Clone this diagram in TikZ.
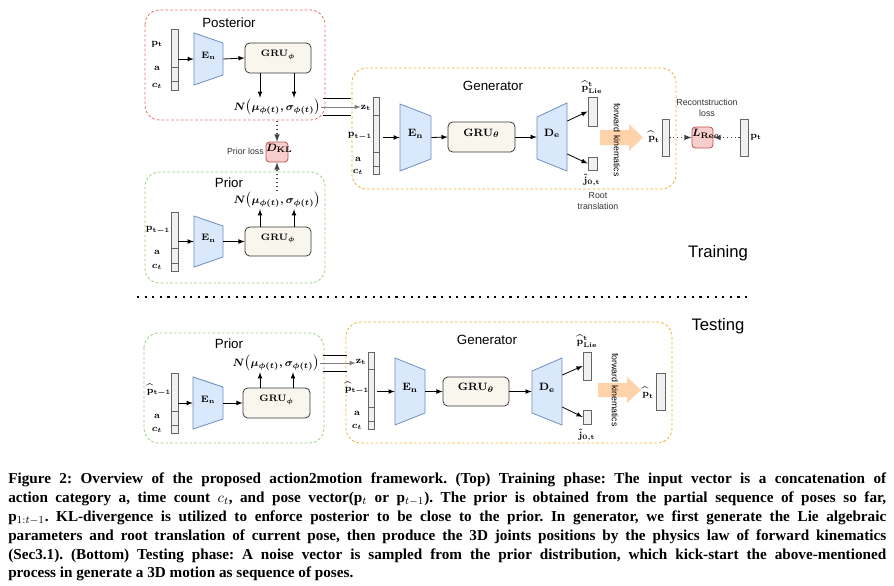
\documentclass[tikz,border=0pt]{standalone}
\usepackage[no-math]{fontspec}
\newfontfamily\lblfont{Liberation Sans}
\newfontfamily\capfont{Liberation Serif}
\usetikzlibrary{fit}

\definecolor{postred}{HTML}{EA6B66}
\definecolor{prigreen}{HTML}{97D077}
\definecolor{genorange}{HTML}{F0B133}
\definecolor{encfill}{HTML}{DAE8FC}
\definecolor{encline}{HTML}{6C8EBF}
\definecolor{grufill}{HTML}{F9F7ED}
\definecolor{gruline}{HTML}{36393D}
\definecolor{lossfill}{HTML}{F8CECC}
\definecolor{lossline}{HTML}{B85450}
\definecolor{vecfill}{HTML}{F0F0F0}
\definecolor{vecline}{HTML}{666666}
\definecolor{fkfill}{HTML}{FFD3AA}

\tikzset{
  frame/.style={rounded corners=11pt, dash pattern=on 2pt off 1.6pt, line width=0.6pt},
  vec/.style={draw=vecline, fill=vecfill, line width=0.6pt, inner sep=0pt},
  coderbox/.style={draw=encline, fill=encfill, line width=0.6pt},
  grubox/.style={draw=gruline, fill=grufill, line width=0.6pt, rounded corners=3.5pt},
  lossbox/.style={draw=lossline, fill=lossfill, line width=0.6pt, rounded corners=2.5pt},
  conn/.style={-latex, line width=0.6pt},
  dotconn/.style={-latex, dotted, line width=0.9pt, draw=black!75},
  mlbl/.style={font=\fontsize{7.5}{8}\selectfont\boldmath, inner sep=0pt},
  msmall/.style={font=\fontsize{7}{8}\selectfont\boldmath, inner sep=0pt},
  mbig/.style={font=\fontsize{8.5}{9}\selectfont\boldmath, inner sep=0pt},
  mnorm/.style={font=\fontsize{8}{9}\selectfont\boldmath, inner sep=0.5pt},
  ttl/.style={font=\lblfont\fontsize{10}{12}\selectfont},
  note/.style={font=\lblfont\fontsize{6.6}{8}\selectfont, text=black!80, align=center, inner sep=0pt},
  phase/.style={font=\lblfont\fontsize{12.5}{14}\selectfont},
  sep/.style={line width=1.6pt, dash pattern=on 1.6pt off 4.1pt},
  fk/.style={fill=fkfill, draw=none},
}

% vector bar: name, x1, y1, x2, y2, dividers
\newcommand{\vect}[6]{%
  \node[vec, fit={(#2,#3) (#4,#5)}] (#1) {};
  \foreach \d in {#6}
    \draw[vecline, line width=0.6pt] (#1.west |- 0,\d) -- (#1.east |- 0,\d);
}
% encoder/decoder: name, style, xl, xr, left top, left bottom, right top, right bottom, label
\newcommand{\coder}[9]{%
  \draw[coderbox] (#3,#5) -- (#4,#7) -- (#4,#8) -- (#3,#6) -- cycle;
  \node[#2, fit={(#3,#5) (#4,#7) (#4,#8) (#3,#6)}] (#1) {#9};
}
\newcommand{\normlbl}{$N\bigl(\mu_{\phi(t)},\sigma_{\phi(t)}\bigr)$}

\begin{document}
\begin{tikzpicture}[x=0.75pt, y=-0.75pt]
\useasboundingbox (0,0) rectangle (894,586);

% training: posterior
\draw[frame, draw=postred] (145,10) rectangle (325,120);
\node[ttl] (postTitle) at (229,23) {Posterior};
\vect{vPost}{171}{29}{178}{90}{67,81}
\node[mlbl] (pPost) at (157,44) {$\mathbf{p_t}$};
\node[mlbl] (aPost) at (157,68) {$\mathbf{a}$};
\node[mlbl] (cPost) at (157,86) {$c_t$};
\coder{enP}{msmall}{194}{223}{33}{85}{43}{75}{$\mathbf{E_n}$}
\node[grubox, msmall, fit={(245,43) (311,73)}] (gruP) {$\mathbf{GRU}_\phi$};
\node[mnorm] (nPost) at (277,107) {\normlbl};
\draw[conn] (vPost.east |- enP) -- (enP.west);
\draw[conn] (enP.east) -- (gruP.west);
\foreach \x in {260,294}
\draw[conn] (gruP.south -| \x,0) -- (nPost.north -| \x,0);

% training: prior
\draw[frame, draw=prigreen] (145,172) rectangle (325,283);
\node[ttl] (priTitle) at (229,183) {Prior};
\vect{vPri}{171}{212}{178}{271}{248,263}
\node[mlbl] (pPri) at (158,230) {$\mathbf{p_{t-1}}$};
\node[mlbl] (aPri) at (157,252) {$\mathbf{a}$};
\node[mlbl] (cPri) at (157,267) {$c_t$};
\coder{enPri}{msmall}{194}{223}{216}{267}{226}{257}{$\mathbf{E_n}$}
\node[grubox, msmall, fit={(245,227) (311,256)}] (gruPri) {$\mathbf{GRU}_\phi$};
\node[mnorm] (nPri) at (277,200) {\normlbl};
\draw[conn] (vPri.east |- enPri) -- (enPri.west);
\draw[conn] (enPri.east) -- (gruPri.west);
\foreach \x in {260,294}
\draw[conn] (gruPri.north -| \x,0) -- (nPri.south -| \x,0);

% prior loss
\node[lossbox, mbig, fit={(266,142) (288,162)}] (dkl) {$D_{\mathbf{KL}}$};
\node[note, anchor=east] (priLoss) at (264,151) {Prior loss};
\coordinate (postOut) at (277,121);
\draw[dotconn] (postOut) -- (dkl.north);
\draw[dotconn] (nPri.north) -- (dkl.south);

% training: generator
\draw[frame, draw=genorange] (352,68) rectangle (676,189);
\node[ttl] (genTitle) at (493,86) {Generator};
\vect{vGen}{373}{97}{379}{174}{115,152,166}
\node[mlbl] (zGen) at (366,108) {$\mathbf{z_t}$};
\node[mlbl] (pGen) at (360,136) {$\mathbf{p_{t-1}}$};
\node[mlbl] (aGen) at (358,159) {$\mathbf{a}$};
\node[mlbl] (cGen) at (358,172) {$c_t$};
\draw[line width=0.6pt] (323,98) -- (351,98) (323,115) -- (351,115);
\draw[conn, draw=gray] (nPost.east) -- (nPost.east -| zGen.west);
\coder{enG}{mbig}{400}{431}{104}{171}{116}{159}{$\mathbf{E_n}$}
\node[grubox, mbig, fit={(448,122) (515,152)}] (gruG) {$\mathbf{GRU}_\theta$};
\coder{deG}{mbig}{537}{567}{117}{159}{103}{171}{$\mathbf{D_e}$}
\node[vec, fit={(588,97) (597,126)}] (lieG) {};
\node[vec, fit={(588,157) (597,170)}] (rootG) {};
\node[mlbl] (lieGl) at (592,87) {$\widehat{\mathbf{p}}^{\mathbf{t}}_{\mathbf{Lie}}$};
\node[mlbl] (rootGl) at (592,180) {$\hat{\mathbf{j}}_{\mathbf{0,t}}$};
\node[note] (rootTxt) at (598,201) {Root\\translation};
\draw[conn] ([xshift=3pt]vGen.east |- enG) -- (enG.west);
\draw[conn] (enG.east) -- (gruG.west);
\draw[conn] (gruG.east) -- (deG.west);
\draw[conn] (deG.east |- 0,121) -- (lieG.west);
\draw[conn] (deG.east |- 0,154) -- (rootG.west);
\fill[fk] (600,130) -- (629,130) -- (629,124) -- (643,137.5) -- (629,151) -- (629,145) -- (600,145) -- cycle;
\node[note, rotate=-90, text=black] (fkTxt) at (617,140) {forward kinematics};
\node[vec, fit={(662,119) (669,156)}] (outG) {};
\node[mlbl] (outGl) at (654,137) {$\widehat{\mathbf{p}}_{\mathbf{t}}$};

% reconstruction loss
\node[lossbox, mbig, fit={(692,127) (713,148)}] (lrec) {$L_{\mathbf{Rec}}$};
\node[note] (recTxt) at (707,108) {Recontstruction\\loss};
\node[vec, fit={(740,119) (748,156)}] (gtP) {};
\node[mlbl] (gtPl) at (756,137) {$\mathbf{p_t}$};
\draw[dotconn] (outG.east) -- (lrec.west);
\draw[dotconn] (gtP.west) -- (lrec.east);

\node[phase] (train) at (718,253) {Training};
\draw[sep] (137,297) -- (752,297);
\node[phase] (test) at (718,326) {Testing};

% testing: prior
\draw[frame, draw=prigreen] (144,333) rectangle (324,443);
\node[ttl] (priTitle2) at (229,344) {Prior};
\vect{vPri2}{171}{373}{178}{433}{411,425}
\node[mlbl] (pPri2) at (159,390) {$\widehat{\mathbf{p}}_{\mathbf{t-1}}$};
\node[mlbl] (aPri2) at (157,416) {$\mathbf{a}$};
\node[mlbl] (cPri2) at (157,430) {$c_t$};
\coder{enPri2}{msmall}{193}{223}{377}{429}{387}{419}{$\mathbf{E_n}$}
\node[grubox, msmall, fit={(243,388) (310,418)}] (gruPri2) {$\mathbf{GRU}_\phi$};
\node[mnorm] (nPri2) at (276,363) {\normlbl};
\draw[conn] (vPri2.east |- enPri2) -- (enPri2.west);
\draw[conn] (enPri2.east) -- (gruPri2.west);
\foreach \x in {260,293}
\draw[conn] (gruPri2.north -| \x,0) -- (nPri2.south -| \x,0);

% testing: generator
\draw[frame, draw=genorange] (346,322) rectangle (672,443);
\node[ttl] (genTitle2) at (487,340) {Generator};
\vect{vGen2}{368}{352}{374}{429}{369,407,421}
\node[mlbl] (zGen2) at (361,362) {$\mathbf{z_t}$};
\node[mlbl] (pGen2) at (357,388) {$\widehat{\mathbf{p}}_{\mathbf{t-1}}$};
\node[mlbl] (aGen2) at (357,413) {$\mathbf{a}$};
\node[mlbl] (cGen2) at (357,427) {$c_t$};
\draw[line width=0.6pt] (323,355) -- (347,355) (323,371) -- (347,371);
\draw[conn, draw=gray] (nPri2.east) -- (nPri2.east -| zGen2.west);
\coder{enG2}{mbig}{395}{425}{358}{425}{370}{413}{$\mathbf{E_n}$}
\node[grubox, mbig, fit={(443,377) (509,406)}] (gruG2) {$\mathbf{GRU}_\theta$};
\coder{deG2}{mbig}{532}{562}{371}{413}{358}{425}{$\mathbf{D_e}$}
\node[vec, fit={(583,352) (591,380)}] (lieG2) {};
\node[vec, fit={(583,410) (591,424)}] (rootG2) {};
\node[mlbl] (lieGl2) at (587,341) {$\widehat{\mathbf{p}}^{\mathbf{t}}_{\mathbf{Lie}}$};
\node[mlbl] (rootGl2) at (587,435) {$\hat{\mathbf{j}}_{\mathbf{0,t}}$};
\draw[conn] ([xshift=2pt]vGen2.east |- enG2) -- (enG2.west);
\draw[conn] (enG2.east) -- (gruG2.west);
\draw[conn] (gruG2.east) -- (deG2.west);
\draw[conn] (deG2.east |- 0,375) -- (lieG2.west);
\draw[conn] (deG2.east |- 0,407) -- (rootG2.west);
\fill[fk] (598,383) -- (627,383) -- (627,377) -- (641,390) -- (627,403) -- (627,397) -- (598,397) -- cycle;
\node[note, rotate=-90, text=black] (fkTxt2) at (615,390) {forward kinematics};
\node[vec, fit={(656,373) (665,410)}] (outG2) {};
\node[mlbl] (outGl2) at (648,393) {$\widehat{\mathbf{p}}_{\mathbf{t}}$};

% caption
\node[anchor=north west, text width=658.5pt, align=justify, inner sep=0pt,
  font=\capfont\bfseries\fontsize{11.4}{14.1}\selectfont\frenchspacing] (caption) at (8,473)
{Figure 2: Overview of the proposed action2motion framework. (Top) Training phase: The input vector is a concatenation of\linebreak
action category a, time count $c_t$, and pose vector(p$_t$ or p$_{t-1}$). The prior is obtained from the partial sequence of poses so far,\linebreak
p$_{1:t-1}$. KL-divergence is utilized to enforce posterior to be close to the prior. In generator, we first generate the Lie algebraic\linebreak
parameters and root translation of current pose, then produce the 3D joints positions by the physics law of forward kinematics\linebreak
(Sec3.1). (Bottom) Testing phase: A noise vector is sampled from the prior distribution, which kick-start the above-mentioned\linebreak
process in generate a 3D motion as sequence of poses.};
\end{tikzpicture}
\end{document}
